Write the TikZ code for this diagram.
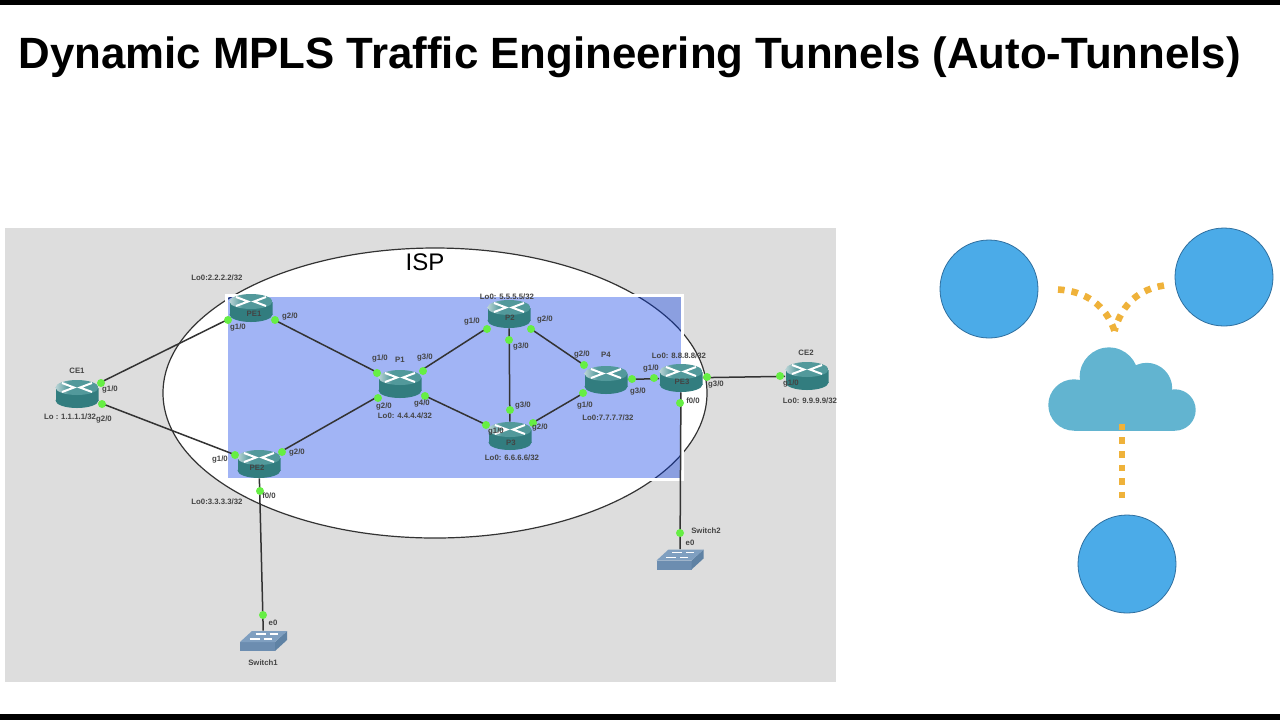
\documentclass[tikz,border=0pt]{standalone}
\usepackage{fontspec}
\setsansfont{Liberation Sans}
\usetikzlibrary{shapes.geometric}

\definecolor{routertop}{HTML}{52999B}
\definecolor{routerlight}{HTML}{BAD4D6}
\definecolor{routerside}{HTML}{327D7F}
\definecolor{switchtop}{HTML}{7F9FC0}
\definecolor{switchfront}{HTML}{6C8DB0}
\definecolor{switchside}{HTML}{5F82A4}
\definecolor{portgreen}{HTML}{66EE44}
\definecolor{tagtext}{HTML}{444444}
\definecolor{sitefill}{HTML}{4BABE8}
\definecolor{siteline}{HTML}{2F6F9F}
\definecolor{cloudfill}{HTML}{62B4D0}
\definecolor{tunnelcolor}{HTML}{EFB23A}
\pgfdeclarehorizontalshading{routershade}{100bp}{color(0bp)=(routerlight); color(25bp)=(routerlight); color(40bp)=(routertop); color(100bp)=(routertop)}

\begin{document}
\begin{tikzpicture}[x=0.5pt, y=-0.5pt, font=\sffamily]
        % Setup the styles
        \tikzset{router body/.pic={
                    \fill[routerside] (-21.5,-6.5) rectangle (21.5,6.5);
                    \fill[routerside] (0,6.5) circle[x radius=21.5, y radius=7.5];
                    \shade[shading=routershade] (0,-6.5) circle[x radius=21.5, y radius=7.5];
                    \draw[white, line width=1pt] (-15,-11) -- (-3,-6.5) -- (-15,-2);
                    \draw[white, line width=1pt] (15,-11) -- (3,-6.5) -- (15,-2);
                 },
                 switch body/.pic={
                    \fill[switchfront] (-23.5,1) -- (11.5,1) -- (11.5,10) -- (-23.5,10) -- cycle;
                    \fill[switchside] (11.5,1) -- (23.5,-10) -- (23.5,-1) -- (11.5,10) -- cycle;
                    \fill[switchtop] (-23.5,1) -- (-11.5,-10) -- (23.5,-10) -- (11.5,1) -- cycle;
                    \draw[white, line width=0.9pt] (-8,-7) -- (2,-7) (6,-7) -- (14,-7)
                                                   (-14,-2) -- (-4,-2) (0,-2) -- (8,-2);
                 },
                 router style/.style={minimum width=21.5pt,
                                      minimum height=14pt,
                                      inner sep=0pt,
                                      path picture={\pic at (path picture bounding box.center) {router body};}},
                 switch style/.style={minimum width=23.5pt,
                                      minimum height=10pt,
                                      inner sep=0pt,
                                      path picture={\pic at (path picture bounding box.center) {switch body};}},
                 port style/.style={circle, fill=portgreen, minimum size=4pt, inner sep=0pt},
                 tag style/.style={font=\sffamily\bfseries\fontsize{3.9}{4.5}\selectfont,
                                   text=tagtext, inner sep=0pt},
                 link style/.style={line width=0.75pt, draw=black!80},
                 site style/.style={circle, minimum size=49pt, inner sep=0pt, fill=sitefill,
                                    draw=siteline, line width=0.4pt},
                 tunnel style/.style={line width=3.3pt, draw=tunnelcolor,
                                      dash pattern=on 3.3pt off 3.5pt}}

        \useasboundingbox (0,0) rectangle (1280,720);

        % Draw the frame and the backdrop
        \fill[black] (0,0) rectangle (1280,5);
        \fill[black] (0,714) rectangle (1280,720);
        \node[anchor=west, inner sep=0pt, font=\sffamily\bfseries\fontsize{21.9}{26}\selectfont]
            at (18,57) (headline) {Dynamic MPLS Traffic Engineering Tunnels (Auto-Tunnels)};
        \fill[black!13.5] (5,228) rectangle (836,682);

        % Draw the provider ring and the shaded core
        \node[ellipse, fill=white, draw=black!80, line width=0.6pt, inner sep=0pt,
              minimum width=272pt, minimum height=145pt] at (435,393) (ring) {};
        \node[font=\sffamily\fontsize{12}{14}\selectfont, inner sep=0pt] at (425,262) (ringname) {ISP};
        \node[draw=white, line width=1.5pt, fill={rgb,255:red,0;green,54;blue,230}, fill opacity=0.37,
              minimum width=228pt, minimum height=92pt, inner sep=0pt] at (454.5,387.5) (core) {};

        % Draw the routers and the switches
        \node[router style] at (77,394)  (ce1) {};
        \node[router style] at (251,308) (pe1) {};
        \node[router style] at (259,464) (pe2) {};
        \node[router style] at (400,384) (p1) {};
        \node[router style] at (509,314) (p2) {};
        \node[router style] at (510,436) (p3) {};
        \node[router style] at (606,380) (p4) {};
        \node[router style] at (681,378) (pe3) {};
        \node[router style] at (807,376) (ce2) {};
        \node[switch style] at (263.5,641) (switch1) {};
        \node[switch style] at (680,559.5) (switch2) {};

        % Connect the routers
        \draw[link style]
            (ce1) edge (pe1)
            (ce1) edge (pe2)
            (pe1) edge (p1)
            (pe2) edge (p1)
            (p1)  edge (p2)
            (p1)  edge (p3)
            (p2)  edge (p3)
            (p2)  edge (p4)
            (p3)  edge (p4)
            (p4)  edge (pe3)
            (pe3) edge (ce2)
            (pe2) edge (switch1)
            (pe3) edge (switch2);

        % Draw the ports
        \node[port style] at (101,383) (ce1a) {};
        \node[port style] at (102,404) (ce1b) {};
        \node[port style] at (228,320) (pe1a) {};
        \node[port style] at (275,320) (pe1b) {};
        \node[port style] at (235,455) (pe2a) {};
        \node[port style] at (282,452) (pe2b) {};
        \node[port style] at (260,491) (pe2f) {};
        \node[port style] at (377,373) (p1a) {};
        \node[port style] at (378,398) (p1b) {};
        \node[port style] at (423,371) (p1c) {};
        \node[port style] at (425,396) (p1d) {};
        \node[port style] at (487,329) (p2a) {};
        \node[port style] at (531,329) (p2b) {};
        \node[port style] at (509,340) (p2c) {};
        \node[port style] at (486,425) (p3a) {};
        \node[port style] at (533,423) (p3b) {};
        \node[port style] at (510,410) (p3c) {};
        \node[port style] at (583,393) (p4a) {};
        \node[port style] at (584,365) (p4b) {};
        \node[port style] at (632,379) (p4c) {};
        \node[port style] at (654,378) (pe3a) {};
        \node[port style] at (707,377) (pe3c) {};
        \node[port style] at (680,403) (pe3f) {};
        \node[port style] at (780,376) (ce2a) {};
        \node[port style] at (263,615) (switch1e) {};
        \node[port style] at (680,533) (switch2e) {};

        % Write the names and the interfaces
        \node[tag style] at (77,371)   (ce1name) {CE1};
        \node[tag style] at (110,389)  (ce1g1) {g1/0};
        \node[tag style] at (104,419)  (ce1g2) {g2/0};
        \node[tag style] at (70,417)   (ce1lo) {Lo : 1.1.1.1/32};
        \node[tag style] at (217,278)  (pe1lo) {Lo0:2.2.2.2/32};
        \node[tag style] at (254,314)  (pe1name) {PE1};
        \node[tag style] at (238,327)  (pe1g1) {g1/0};
        \node[tag style] at (290,316)  (pe1g2) {g2/0};
        \node[tag style] at (220,459)  (pe2g1) {g1/0};
        \node[tag style] at (297,452)  (pe2g2) {g2/0};
        \node[tag style] at (257,468)  (pe2name) {PE2};
        \node[tag style] at (269,496)  (pe2f0) {f0/0};
        \node[tag style] at (217,502)  (pe2lo) {Lo0:3.3.3.3/32};
        \node[tag style] at (400,360)  (p1name) {P1};
        \node[tag style] at (380,358)  (p1g1) {g1/0};
        \node[tag style] at (425,357)  (p1g3) {g3/0};
        \node[tag style] at (384,406)  (p1g2) {g2/0};
        \node[tag style] at (422,403)  (p1g4) {g4/0};
        \node[tag style] at (405,416)  (p1lo) {Lo0: 4.4.4.4/32};
        \node[tag style] at (507,297)  (p2lo) {Lo0: 5.5.5.5/32};
        \node[tag style] at (510,318)  (p2name) {P2};
        \node[tag style] at (472,321)  (p2g1) {g1/0};
        \node[tag style] at (545,319)  (p2g2) {g2/0};
        \node[tag style] at (521,346)  (p2g3) {g3/0};
        \node[tag style] at (523,405)  (p3g3) {g3/0};
        \node[tag style] at (496,431)  (p3g1) {g1/0};
        \node[tag style] at (540,427)  (p3g2) {g2/0};
        \node[tag style] at (511,443)  (p3name) {P3};
        \node[tag style] at (512,458)  (p3lo) {Lo0: 6.6.6.6/32};
        \node[tag style] at (606,355)  (p4name) {P4};
        \node[tag style] at (582,354)  (p4g2) {g2/0};
        \node[tag style] at (638,391)  (p4g3) {g3/0};
        \node[tag style] at (585,405)  (p4g1) {g1/0};
        \node[tag style] at (608,418)  (p4lo) {Lo0:7.7.7.7/32};
        \node[tag style] at (679,356)  (pe3lo) {Lo0: 8.8.8.8/32};
        \node[tag style] at (651,368)  (pe3g1) {g1/0};
        \node[tag style] at (682,382)  (pe3name) {PE3};
        \node[tag style] at (693,401)  (pe3f0) {f0/0};
        \node[tag style] at (716,384)  (pe3g3) {g3/0};
        \node[tag style] at (806,353)  (ce2name) {CE2};
        \node[tag style] at (791,383)  (ce2g1) {g1/0};
        \node[tag style] at (810,401)  (ce2lo) {Lo0: 9.9.9.9/32};
        \node[tag style] at (273,623)  (switch1e0) {e0};
        \node[tag style] at (263,663)  (switch1name) {Switch1};
        \node[tag style] at (706,531)  (switch2name) {Switch2};
        \node[tag style] at (690,543)  (switch2e0) {e0};

        % Draw the sketch on the right
        \node[site style] at (989,289)  (siteleft) {};
        \node[site style] at (1224,277) (siteright) {};
        \node[site style] at (1127,564) (sitebottom) {};
        \fill[cloudfill] (1074,405) circle[radius=25.7];
        \fill[cloudfill] (1109,376.7) circle[radius=29.3];
        \fill[cloudfill] (1146.7,388.3) circle[radius=25.5];
        \fill[cloudfill] (1175,410) circle[radius=20.7];
        \fill[cloudfill] (1074,392) rectangle (1175,430.7);

        % Connect the sketch with coordinates
        \coordinate (tunnelleft) at (1058,289.5);
        \coordinate (tunnelright) at (1164,285.5);
        \coordinate (tunneljoin) at (1114.5,331);
        \coordinate (tunneltop) at (1122,423.7);
        \coordinate (tunnelend) at (1122,499);
        \draw[tunnel style] (tunnelleft) .. controls (1085,291) and (1106,305) .. (tunneljoin);
        \draw[tunnel style] (tunnelright) .. controls (1140,289) and (1122,303) .. (tunneljoin);
        \draw[tunnel style] (tunneltop) -- (tunnelend);
\end{tikzpicture}
\end{document}
